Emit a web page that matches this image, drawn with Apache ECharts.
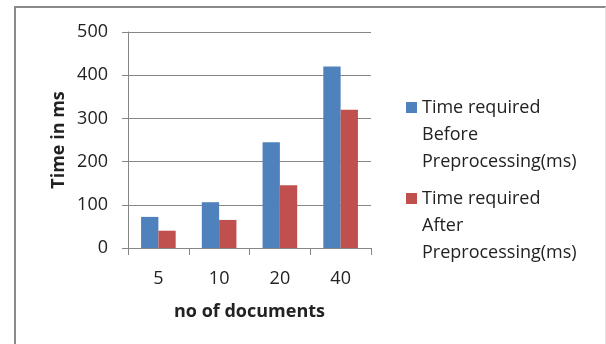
<!DOCTYPE html>
<html>
<head>
<meta charset="utf-8">
<script src="https://cdn.jsdelivr.net/npm/echarts@6/dist/echarts.min.js"></script>
<style>
  html, body { margin: 0; padding: 0; background: #fff; }
  #wrap { position: relative; width: 606px; height: 344px; overflow: hidden; }
  #frame {
    position: absolute; left: 14px; top: 6px; width: 589px; height: 360px;
    border-left: 2px solid #8a8a8a; border-top: 2px solid #8a8a8a; border-right: 1px solid #e6e6e6;
  }
  #chart { position: absolute; left: 0; top: 0; width: 606px; height: 344px; }
</style>
</head>
<body>
<div id="wrap">
  <div id="frame"></div>
  <div id="chart"></div>
</div>
<script>
// categories (no of documents)
const docs = ['5', '10', '20', '40']
// series values in ms
const beforeTimes = [72, 106, 245, 420]
const afterTimes = [40, 65, 145, 320]
const seriesNames = ['Time required Before Preprocessing(ms)', 'Time required After Preprocessing(ms)']
const legendLabels = ['Time required\nBefore\nPreprocessing(ms)', 'Time required\nAfter\nPreprocessing(ms)']

const font = 'Open Sans'
let myChart = echarts.init(document.getElementById('chart'))

// one legend per item; two blank lines on top keep the square on the first text line
const legendFor = (i, top) => ({
  orient: 'vertical',
  left: 406,
  top: top,
  padding: 0,
  data: [seriesNames[i]],
  icon: 'rect',
  itemWidth: 11,
  itemHeight: 11,
  itemGap: 0,
  selectedMode: false,
  formatter: () => ' \n \n' + legendLabels[i],
  textStyle: {
    fontFamily: font,
    fontSize: 18,
    color: '#222',
    lineHeight: 27,
  },
})

let option = {
  animation: false,
  grid: { left: 128, right: 235, top: 32, bottom: 96 },
  legend: [legendFor(0, 40), legendFor(1, 131)],
  xAxis: {
    type: 'category',
    data: docs,
    name: 'no of documents',
    nameLocation: 'middle',
    nameGap: 55,
    nameTextStyle: { fontFamily: font, fontSize: 18, fontWeight: 'bold', color: '#222' },
    axisLine: { lineStyle: { color: '#868686', width: 1 } },
    axisTick: { show: true, length: 7, lineStyle: { color: '#868686' } },
    axisLabel: { margin: 22, fontFamily: font, fontSize: 18, color: '#222' },
  },
  yAxis: {
    type: 'value',
    min: 0,
    max: 500,
    interval: 100,
    name: 'Time in ms',
    nameLocation: 'middle',
    nameRotate: 90,
    nameGap: 60,
    nameTextStyle: { fontFamily: font, fontSize: 18, fontWeight: 'bold', color: '#222' },
    axisLine: { show: true, lineStyle: { color: '#868686', width: 1 } },
    axisTick: { show: true, length: 6, lineStyle: { color: '#868686' } },
    axisLabel: { margin: 20, fontFamily: font, fontSize: 18, color: '#222' },
    splitLine: { lineStyle: { color: '#868686', width: 1 } },
  },
  series: [
    {
      name: seriesNames[0],
      type: 'bar',
      data: beforeTimes,
      barGap: '0%',
      barCategoryGap: '43%',
      itemStyle: { color: '#4F81BD' },
    },
    {
      name: seriesNames[1],
      type: 'bar',
      data: afterTimes,
      barGap: '0%',
      barCategoryGap: '43%',
      itemStyle: { color: '#C0504D' },
    },
  ],
}
myChart.setOption(option)
</script>
</body>
</html>
